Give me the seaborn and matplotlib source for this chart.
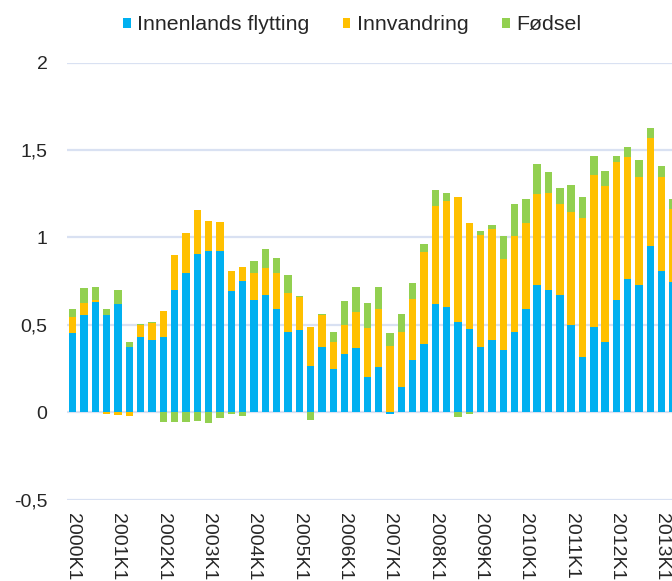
import numpy as np
import pandas as pd
import matplotlib
matplotlib.use("Agg")
import matplotlib.pyplot as plt
import seaborn as sns

# kvartaler 2000K1 - 2013K2
kvartaler = [f"{aar}K{k}" for aar in range(2000, 2014) for k in range(1, 5)][:54]

innenlands = [0.455, 0.557, 0.633, 0.557, 0.621, 0.375, 0.433, 0.416,
              0.433, 0.700, 0.795, 0.907, 0.921, 0.925, 0.694, 0.749,
              0.644, 0.671, 0.591, 0.459, 0.469, 0.267, 0.375, 0.250,
              0.335, 0.370, 0.204, 0.257, -0.011, 0.145, 0.301, 0.392,
              0.617, 0.602, 0.518, 0.474, 0.375, 0.414, 0.358, 0.461,
              0.593, 0.730, 0.700, 0.671, 0.501, 0.318, 0.488, 0.404,
              0.643, 0.763, 0.728, 0.951, 0.807, 0.747]

innvandring = [0.088, 0.070, 0.009, -0.010, -0.015, -0.020, 0.066, 0.093,
               0.148, 0.201, 0.231, 0.251, 0.172, 0.165, 0.113, 0.082,
               0.153, 0.153, 0.204, 0.226, 0.192, 0.219, 0.182, 0.152,
               0.166, 0.206, 0.278, 0.334, 0.379, 0.314, 0.349, 0.527,
               0.565, 0.609, 0.715, 0.609, 0.639, 0.632, 0.517, 0.550,
               0.490, 0.521, 0.553, 0.519, 0.645, 0.794, 0.868, 0.889,
               0.791, 0.696, 0.618, 0.621, 0.537, 0.417]

fodsel = [0.050, 0.082, 0.077, 0.032, 0.080, 0.025, 0.005, 0.005,
          -0.055, -0.057, -0.057, -0.050, -0.063, -0.035, -0.012, -0.019,
          0.066, 0.109, 0.086, 0.102, 0.004, -0.042, 0.004, 0.057,
          0.134, 0.141, 0.142, 0.124, 0.076, 0.105, 0.088, 0.044,
          0.088, 0.045, -0.025, -0.010, 0.023, 0.028, 0.133, 0.183,
          0.140, 0.169, 0.123, 0.093, 0.156, 0.117, 0.110, 0.086,
          0.032, 0.059, 0.097, 0.057, 0.066, 0.054]

serier = ["Innenlands flytting", "Innvandring", "Fødsel"]
farger = ["#00B0F0", "#FFC000", "#92D050"]

df = pd.DataFrame({"kvartal": kvartaler,
                   "Innenlands flytting": innenlands,
                   "Innvandring": innvandring,
                   "Fødsel": fodsel})

sns.set_style("white")
plt.rcParams["font.family"] = ["Liberation Sans", "DejaVu Sans"]

fig = plt.figure(figsize=(6.72, 5.81), dpi=100)
ax = fig.add_axes([67 / 672, 1 - 499.7 / 581, (672 - 67) / 672, (499.7 - 62.7) / 581])

# positive verdier stables oppover, negative nedover (som i Excel)
pos_bunn = np.zeros(len(df))
neg_bunn = np.zeros(len(df))
for navn, farge in zip(serier, farger):
    verdier = df[navn].to_numpy()
    bunn = np.where(verdier >= 0, pos_bunn, neg_bunn)
    sns.barplot(x="kvartal", y=navn, data=df, color=farge, width=0.65,
                bottom=bunn, errorbar=None, label=navn, ax=ax,
                saturation=1, linewidth=0, zorder=3)
    pos_bunn = pos_bunn + np.clip(verdier, 0, None)
    neg_bunn = neg_bunn + np.clip(verdier, None, 0)

ax.set_ylim(-0.5, 2)
ax.set_xlim(-0.5, 52.9)
yt = [-0.5, 0, 0.5, 1, 1.5, 2]
ax.set_yticks(yt)
ax.set_yticklabels(["-0,5", "0", "0,5", "1", "1,5", "2"])
ax.set_xticks(range(0, len(kvartaler), 4))
ax.set_xticklabels(kvartaler[::4], rotation=270)
ax.tick_params(axis="y", length=0, pad=14, labelsize=14)
ax.tick_params(axis="x", length=0, pad=9.5, labelsize=14)
ax.set_xlabel("")
ax.set_ylabel("")
ax.grid(axis="y", color="#D9E1F2", linewidth=1.6, zorder=0)
ax.set_axisbelow(True)
for s in ax.spines.values():
    s.set_visible(False)

handles, labels = ax.get_legend_handles_labels()
ax.legend_ = None
fig.legend(handles, labels, loc="center", bbox_to_anchor=(352 / 672, 1 - 25 / 581),
           ncol=3, frameon=False, fontsize=15.4, handlelength=0.37, handleheight=0.37,
           handletextpad=0.3, columnspacing=1.55, borderpad=0)

fig.savefig("out.png", dpi=100)
